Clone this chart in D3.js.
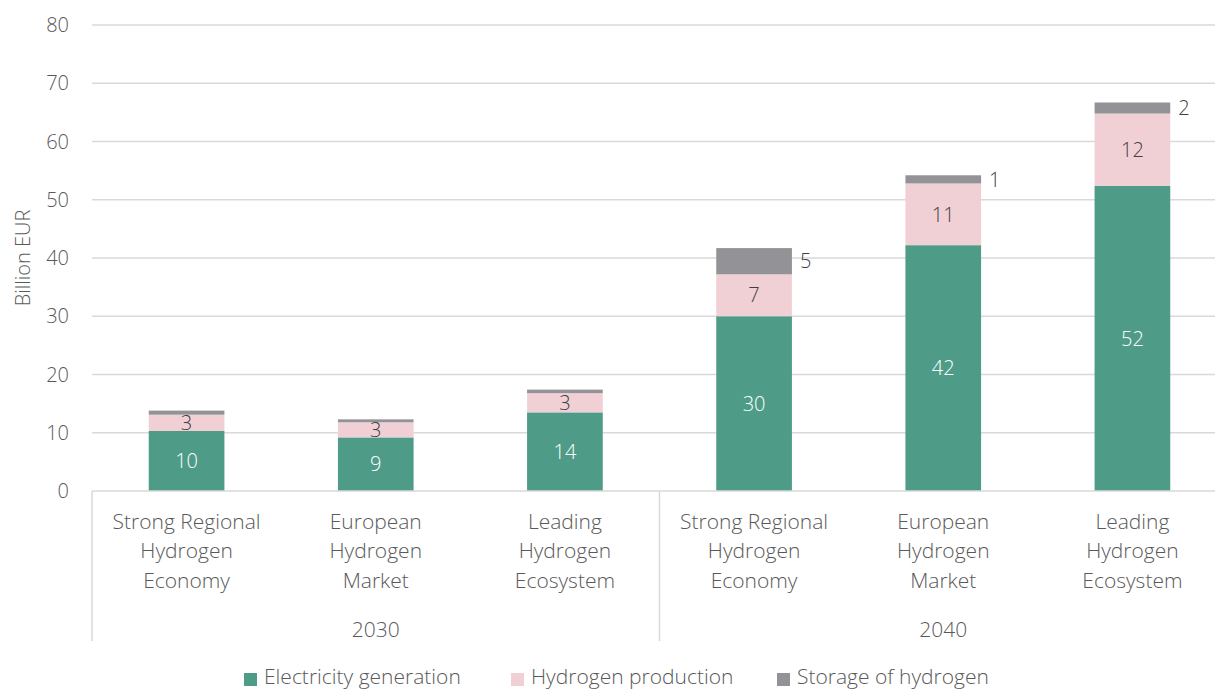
<!DOCTYPE html>
<html>
<head>
<meta charset="utf-8">
<script src="https://cdn.jsdelivr.net/npm/d3@7"></script>
<style>
  body { margin: 0; background: #fff; }
  text { font-family: "Open Sans", Lato, sans-serif; font-weight: 300; }
</style>
</head>
<body>
<div id="chart"></div>
<script>
// scenario investment chart (stacked bars, two-level x axis)

const scenarios = [
  ["Strong Regional", "Hydrogen", "Economy"],
  ["European", "Hydrogen", "Market"],
  ["Leading", "Hydrogen", "Ecosystem"]
];
const years = ["2030", "2040"];
const electricity = [10.3, 9.2, 13.5, 30.0, 42.2, 52.4];
const hydrogenProd = [2.8, 2.6, 3.3, 7.2, 10.6, 12.4];
const storage = [0.7, 0.5, 0.6, 4.5, 1.4, 1.9];
const seriesNames = ["Electricity generation", "Hydrogen production", "Storage of hydrogen"];
const yTicks = [0, 10, 20, 30, 40, 50, 60, 70, 80];

const width = 1215, height = 689;
const colors = ["#4e9c87", "#f0d0d5", "#939397"];
const textColor = "#595959";
const gridColor = "#d9d9d9";

const svg = d3.select("#chart").append("svg")
  .attr("width", width)
  .attr("height", height);

const rows = [];
years.forEach((yr, yi) => {
  scenarios.forEach((sc, si) => {
    const i = yi * scenarios.length + si;
    rows.push({ id: i, year: yr, lines: sc, elec: electricity[i], hyd: hydrogenProd[i], sto: storage[i] });
  });
});

const x = d3.scaleBand()
  .domain(rows.map(d => d.id))
  .range([92, 1227])
  .paddingInner(0.6)
  .paddingOuter(0.3);

const y = d3.scaleLinear().domain([0, 80]).range([491, 25]);

// gridlines
svg.append("g")
  .selectAll("line")
  .data(yTicks.filter(t => t > 0))
  .enter().append("line")
  .attr("x1", 92).attr("x2", 1227)
  .attr("y1", d => y(d)).attr("y2", d => y(d))
  .attr("stroke", gridColor)
  .attr("stroke-width", 1.3);

// y tick labels
svg.append("g")
  .selectAll("text")
  .data(yTicks)
  .enter().append("text")
  .attr("x", 69)
  .attr("y", d => y(d))
  .attr("dy", "0.36em")
  .attr("text-anchor", "end")
  .attr("font-size", "20px")
  .attr("fill", textColor)
  .text(d => d);

svg.append("text")
  .attr("transform", "translate(30,258) rotate(-90)")
  .attr("text-anchor", "middle")
  .attr("font-size", "20px")
  .attr("fill", textColor)
  .text("Billion EUR");

// stacked bars
const stack = d3.stack().keys(["elec", "hyd", "sto"]);
const stacked = stack(rows);

const layers = svg.append("g")
  .selectAll("g")
  .data(stacked)
  .enter().append("g")
  .attr("fill", (d, i) => colors[i]);

layers.selectAll("rect")
  .data(d => d)
  .enter().append("rect")
  .attr("x", d => x(d.data.id))
  .attr("width", x.bandwidth())
  .attr("y", d => y(d[1]))
  .attr("height", d => y(d[0]) - y(d[1]));

// x axis base line
svg.append("line")
  .attr("x1", 92).attr("x2", 1227)
  .attr("y1", 491).attr("y2", 491)
  .attr("stroke", gridColor)
  .attr("stroke-width", 1.5);

// group separators
svg.append("g")
  .selectAll("line")
  .data([92, (x(2) + x.bandwidth() + x(3)) / 2, 1227])
  .enter().append("line")
  .attr("x1", d => d).attr("x2", d => d)
  .attr("y1", 491).attr("y2", 641)
  .attr("stroke", gridColor)
  .attr("stroke-width", 1.5);

// segment labels
svg.append("g")
  .selectAll("text")
  .data(rows)
  .enter().append("text")
  .attr("x", d => x(d.id) + x.bandwidth() / 2)
  .attr("y", d => y(d.elec / 2))
  .attr("dy", "0.36em")
  .attr("text-anchor", "middle")
  .attr("font-size", "20px")
  .attr("fill", "#ffffff")
  .text(d => Math.round(d.elec));

svg.append("g")
  .selectAll("text")
  .data(rows)
  .enter().append("text")
  .attr("x", d => x(d.id) + x.bandwidth() / 2)
  .attr("y", d => y(d.elec + d.hyd / 2))
  .attr("dy", "0.36em")
  .attr("text-anchor", "middle")
  .attr("font-size", "20px")
  .attr("fill", "#404040")
  .text(d => Math.round(d.hyd));

svg.append("g")
  .selectAll("text")
  .data(rows.filter(d => d.sto >= 1))
  .enter().append("text")
  .attr("x", d => x(d.id) + x.bandwidth() + 8)
  .attr("y", d => y(d.elec + d.hyd + d.sto / 2))
  .attr("dy", "0.36em")
  .attr("font-size", "20px")
  .attr("fill", "#404040")
  .text(d => Math.round(d.sto));

// category labels
const catLabels = svg.append("g")
  .selectAll("text")
  .data(rows)
  .enter().append("text")
  .attr("text-anchor", "middle")
  .attr("font-size", "21px")
  .attr("fill", textColor);

catLabels.selectAll("tspan")
  .data(d => d.lines.map(l => ({ l, cx: x(d.id) + x.bandwidth() / 2 })))
  .enter().append("tspan")
  .attr("x", d => d.cx)
  .attr("y", (d, i) => 528.5 + i * 29.5)
  .text(d => d.l);

// year labels
svg.append("g")
  .selectAll("text")
  .data(years)
  .enter().append("text")
  .attr("x", (d, i) => x(i * 3 + 1) + x.bandwidth() / 2)
  .attr("y", 636.5)
  .attr("text-anchor", "middle")
  .attr("font-size", "21px")
  .attr("fill", textColor)
  .text(d => d);

// legend
const legendX = [244, 511, 777];
const legend = svg.append("g")
  .selectAll("g")
  .data(seriesNames)
  .enter().append("g")
  .attr("transform", (d, i) => `translate(${legendX[i]},684)`);

legend.append("rect")
  .attr("x", 0).attr("y", -11)
  .attr("width", 13).attr("height", 13)
  .attr("fill", (d, i) => colors[i]);

legend.append("text")
  .attr("x", 20)
  .attr("font-size", "21px")
  .attr("fill", textColor)
  .text(d => d);
</script>
</body>
</html>
